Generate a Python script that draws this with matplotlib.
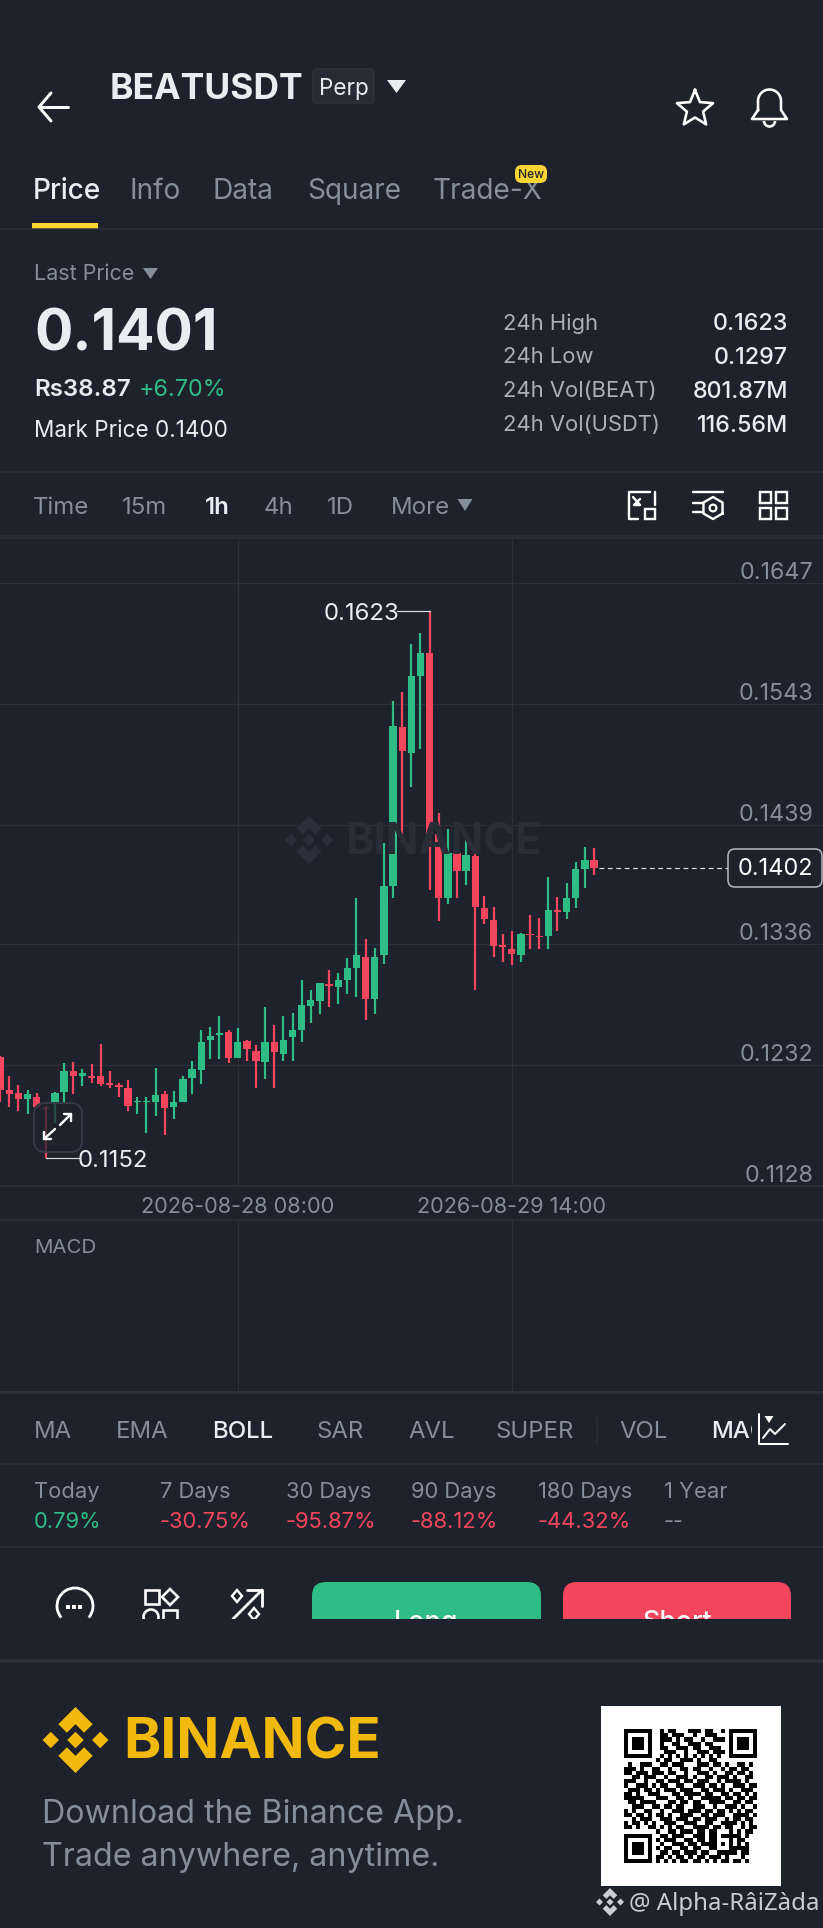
import matplotlib
matplotlib.use("Agg")
import matplotlib.pyplot as plt
from matplotlib.patches import Rectangle, FancyBboxPatch, Polygon, Circle, Arc
import numpy as np

# colours
BG = '#1e222d'
LINE = '#2a2e39'
GRID = '#2c313c'
GRAY = '#848e9c'
LIGHT = '#eaecef'
GREEN = '#2ebd85'
RED = '#f6465d'
YELLOW = '#fcd535'
GOLD = '#f0b90b'

# hourly candles
opens = [.1239, .1211, .1208, .1203, .1205, .1195, .1200, .1209, .1227, .1223, .1223,
         .1223, .1217, .1215, .1212, .1200, .1200, .1200, .1207, .1196, .1200, .1221,
         .1228, .1254, .1258, .1261, .1238, .1253, .1244, .1235, .1252, .1242, .1256,
         .1262, .1283, .1287, .1302, .1299, .1305, .1316, .1325, .1289, .1327, .1386,
         .1523, .1501, .1567, .1587, .1431, .1376, .1415, .1399, .1412, .1367, .1357,
         .1335, .1332, .1327, .1345, .1343, .1343, .1366, .1364, .1376, .1401, .1409]
highs = [.1240, .1223, .1215, .1211, .1208, .1197, .1209, .1234, .1235, .1229, .1233,
         .1250, .1227, .1217, .1219, .1205, .1205, .1230, .1210, .1210, .1223, .1236,
         .1262, .1265, .1274, .1262, .1264, .1254, .1249, .1282, .1267, .1274, .1277,
         .1305, .1297, .1303, .1314, .1311, .1324, .1376, .1341, .1333, .1423, .1546,
         .1553, .1595, .1604, .1623, .1449, .1435, .1422, .1426, .1414, .1378, .1368,
         .1345, .1348, .1346, .1361, .1359, .1394, .1377, .1389, .1407, .1420, .1419]
lows = [.1200, .1196, .1193, .1190, .1195, .1152, .1182, .1200, .1207, .1214, .1217,
        .1214, .1212, .1205, .1193, .1190, .1174, .1188, .1172, .1186, .1200, .1207,
        .1216, .1237, .1237, .1234, .1238, .1236, .1212, .1220, .1212, .1236, .1236,
        .1252, .1268, .1276, .1282, .1285, .1293, .1291, .1271, .1276, .1319, .1376,
        .1424, .1472, .1504, .1383, .1356, .1371, .1376, .1387, .1297, .1354, .1325,
        .1321, .1318, .1321, .1332, .1332, .1332, .1348, .1358, .1367, .1385, .1396]
closes = [.1211, .1207, .1203, .1207, .1196, .1194, .1208, .1227, .1223, .1225, .1221,
          .1216, .1215, .1213, .1197, .1201, .1201, .1206, .1195, .1200, .1220, .1229,
          .1252, .1257, .1260, .1238, .1252, .1246, .1236, .1252, .1243, .1254, .1262,
          .1284, .1288, .1303, .1300, .1305, .1316, .1327, .1289, .1325, .1386, .1524,
          .1503, .1567, .1587, .1431, .1376, .1415, .1399, .1413, .1368, .1358, .1335,
          .1334, .1328, .1345, .1344, .1342, .1366, .1364, .1376, .1401, .1409, .1402]

price_ticks = [.1647, .1543, .1439, .1336, .1232, .1128]
price_labels = ['0.1647', '0.1543', '0.1439', '0.1336', '0.1232', '0.1128']
time_ticks = [26, 56]
time_labels = ['2026-08-28 08:00', '2026-08-29 14:00']
last_price = .1402
day_high = .1623
day_low = .1152

tabs = ['Price', 'Info', 'Data', 'Square', 'Trade-X']
tab_x = [33, 130, 213, 307, 433]
intervals = ['Time', '15m', '1h', '4h', '1D', 'More']
interval_x = [33, 122, 205, 264, 327, 391]
stat_names = ['24h High', '24h Low', '24h Vol(BEAT)', '24h Vol(USDT)']
stat_values = ['0.1623', '0.1297', '801.87M', '116.56M']
indicators = ['MA', 'EMA', 'BOLL', 'SAR', 'AVL', 'SUPER', 'VOL', 'MAC']
indicator_x = [34, 116, 212, 317, 408, 496, 619, 711]
periods = ['Today', '7 Days', '30 Days', '90 Days', '180 Days', '1 Year']
period_changes = ['0.79%', '-30.75%', '-95.87%', '-88.12%', '-44.32%', '--']
period_x = [34, 160, 286, 411, 538, 664]

qr_top = ['0101100011101100110', '0110111001001110010', '0111010110010011100',
          '0100110011101100010', '0110011101100111010', '0011100100111011100',
          '0101010101010101010']
qr_mid = ['000000001011001110100110000000000',
          '010011100110111000111011010011010',
          '111010011001001101100100101101100',
          '110111011101100100111010011011010',
          '001101110010011101001101110100110',
          '111001001101110110111001011110100',
          '100111010110011001110110100111011',
          '011101101011101110011011101001110',
          '110100111000110111101100110110101',
          '111110001110011010011111011011011',
          '011011110001101101100111100110110',
          '001110011011011001110010011101001',
          '101001100100111011101101101010110',
          '110110101101001110011011100111101',
          '001011100111011101101110010110110',
          '101101010011100111001100111101010',
          '110100110101011001111011011001011',
          '000000001001101110110110001010110']
qr_bottom = ['01101110011101101111101', '10111001101101100010110', '01001110110111101010101',
             '10110011011001100011111', '01101101110110011111011', '11010110101101110100010',
             '10101011011010101101101']
FINDER = ['1111111', '1000001', '1011101', '1011101', '1011101', '1000001', '1111111']

plt.rcParams['font.family'] = ['Inter', 'DejaVu Sans']
fig = plt.figure(figsize=(8.23, 19.28), dpi=100, facecolor=BG)
W, H = 823, 1928
PT = 0.72  # one pixel in points


def chart_axes(top, bottom):
    ax = fig.add_axes([0, 1 - bottom / H, 1, (bottom - top) / H], facecolor='none')
    # candle spacing is 9.136 px and the first candle sits at the left edge
    ax.set_xlim(-0.02, 90.06)
    for side in ['left', 'right']:
        ax.spines[side].set_visible(False)
    for side in ['top', 'bottom']:
        ax.spines[side].set_color(GRID)
        ax.spines[side].set_linewidth(1.5 * PT)
    ax.grid(True, color=GRID, linewidth=1.2 * PT)
    ax.set_axisbelow(True)
    return ax


# price panel
ax = chart_axes(538, 1186)
ax.set_ylim(.1128, .1686)
ax.set_yticks(price_ticks)
ax.set_xticks(time_ticks)
ax.set_xticklabels(time_labels, fontsize=21.7 * PT, color=GRAY)
ax.tick_params(axis='x', length=0, pad=8)
ax.tick_params(axis='y', length=0, labelleft=False)

x = np.arange(len(opens))
o, h, l, c = [np.array(v) for v in (opens, highs, lows, closes)]
colors = np.where(c >= o, GREEN, RED)
ax.vlines(x, l, h, colors=colors, linewidth=2.2 * PT, zorder=3)
# very thin bodies still have to show, so keep a minimum height
body = np.maximum(np.abs(c - o), .00012)
ax.bar(x, body, bottom=np.minimum(o, c), width=0.8, color=colors, linewidth=0, zorder=3)

for t, lab in zip(price_ticks, price_labels):
    ax.annotate(lab, xy=(1, t), xycoords=('axes fraction', 'data'), xytext=(-10 * PT, 10 * PT),
                textcoords='offset points', ha='right', va='center', fontsize=23.3 * PT, color=GRAY)

# high / low / last markers
hi_i = int(np.argmax(h))
lo_i = int(np.argmin(l))
ax.plot([hi_i - 3.6, hi_i], [day_high, day_high], color='#d8dbe0', linewidth=1.2 * PT, zorder=4)
ax.plot([lo_i, lo_i + 3.6], [day_low, day_low], color='#d8dbe0', linewidth=1.2 * PT, zorder=4)
ax.plot([65.5, 79.7], [last_price, last_price], color='#d8dbe0', linewidth=1.2 * PT,
        dashes=(4, 3), zorder=4)

# MACD panel
ax2 = chart_axes(1220, 1392)
ax2.set_yticks([])
ax2.set_xticks(time_ticks)
ax2.tick_params(axis='x', length=0, labelbottom=False)
ax2.spines['bottom'].set_linewidth(3 * PT)

# everything else lives on a pixel overlay
ui = fig.add_axes([0, 0, 1, 1], facecolor='none', zorder=5)
ui.set_xlim(0, W)
ui.set_ylim(H, 0)
ui.axis('off')


def txt(px, py, s, size, color=LIGHT, weight='normal', ha='left', **kw):
    # Inter's line box sits high, push it down a little
    return ui.text(px, py + 0.11 * size, s, fontsize=size * PT, color=color, weight=weight, ha=ha,
                   va='center', **kw)


def seg(xs, ys, color='white', lw=2.6, **kw):
    return ui.plot(xs, ys, color=color, linewidth=lw * PT, solid_capstyle='round', **kw)[0]


def hline(py, lw=1.5, color=LINE):
    ui.plot([0, W], [py, py], color=color, linewidth=lw * PT)


def tri(cx, top, bottom, half, color):
    ui.add_patch(Polygon([(cx - half, top), (cx + half, top), (cx, bottom)], color=color, lw=0))


def rbox(x0, y0, x1, y1, rad, face='none', edge='none', lw=1.0, **kw):
    p = FancyBboxPatch((x0 + rad, y0 + rad), x1 - x0 - 2 * rad, y1 - y0 - 2 * rad,
                       boxstyle='round,pad=%f' % rad, facecolor=face, edgecolor=edge,
                       linewidth=lw * PT, **kw)
    ui.add_patch(p)
    return p


def binance_mark(cx, cy, r, color):
    shapes = []
    for dx in (-0.75, 0, 0.75):
        shapes.append([(dx, 0.25), (dx + 0.25, 0), (dx, -0.25), (dx - 0.25, 0)])
    top = [(0, 1), (0.52, 0.48), (0.26, 0.22), (0, 0.48), (-0.26, 0.22), (-0.52, 0.48)]
    shapes.append(top)
    shapes.append([(a, -b) for a, b in top])
    for s in shapes:
        ui.add_patch(Polygon([(cx + a * r, cy - b * r) for a, b in s], color=color, lw=0))


# header
seg([40, 68], [107, 107], lw=3)
seg([51, 39, 51], [93, 107, 121], lw=3)
txt(110, 86, 'BEATUSDT', 35.5, color=LIGHT, weight='bold')
rbox(313, 69, 374, 103, 4, face='#262b35', edge='#30353f', lw=1.2)
txt(343.5, 87, 'Perp', 22.5, color=LIGHT, ha='center')
tri(396.5, 80, 93, 9.5, LIGHT)
angles = np.deg2rad(np.arange(0, 361, 36) + 90)
radii = np.where(np.arange(11) % 2 == 0, 19, 8.5)
ui.plot(695 + radii * np.cos(angles), 109 - radii * np.sin(angles), color='white',
        linewidth=2.6 * PT, solid_joinstyle='round')
# bell
bell_a = np.deg2rad(np.linspace(180, 0, 30))
bx = np.r_[758, 758 + 0, 769.5 + 11.5 * np.cos(bell_a), 781, 787, 752, 758]
by = np.r_[110, 103, 101 - 11.5 * np.sin(bell_a), 110, 119, 119, 110]
ui.plot(bx, by, color='white', linewidth=2.6 * PT, solid_joinstyle='round')
ui.add_patch(Arc((769.5, 121), 11, 11, theta1=0, theta2=180, color='white', lw=2.6 * PT))

# tabs
for i, (name, tx) in enumerate(zip(tabs, tab_x)):
    txt(tx, 188, name, 28, color=LIGHT if i == 0 else GRAY, weight='medium' if i == 0 else 'normal')
ui.add_patch(Rectangle((32, 223), 66, 6, color=YELLOW, lw=0))
rbox(515, 165, 547, 183, 7, face=YELLOW, zorder=4)
txt(531, 174, 'New', 12, color='#1e222d', ha='center', weight='medium', zorder=5)
hline(229)

# price block
txt(34, 272, 'Last Price', 21.5, color=GRAY)
tri(150.5, 268, 279, 7.5, GRAY)
txt(34, 329, '0.1401', 57, weight='bold')
txt(34, 387, 'Rs38.87', 24, weight='semibold')
txt(139, 387, '+6.70%', 23.3, color=GREEN)
txt(34, 429, 'Mark Price 0.1400', 22.5)
for name, val, sy in zip(stat_names, stat_values, [321, 355, 389, 423]):
    txt(503, sy, name, 22, color='#a9b0ba')
    txt(788, sy, val, 23.3, weight='medium', ha='right')
hline(472)

# interval row
for name, tx in zip(intervals, interval_x):
    on = name == '1h'
    txt(tx, 505, name, 24, color=LIGHT if on else GRAY, weight='semibold' if on else 'normal')
tri(465, 499, 511, 7.5, GRAY)
hline(536)
# row icons
seg([650, 629, 629, 638], [492, 492, 519, 519], lw=2.4)
seg([655, 655], [492, 505], lw=2.4)
seg([633, 640], [497, 505], lw=2.4)
seg([640, 634, 640], [499, 505, 505], lw=2.4)
ui.add_patch(Rectangle((645, 509), 10, 10, fc='none', ec='white', lw=2.4 * PT))
seg([693, 723], [492, 492], lw=2.4)
seg([693, 703], [503, 503], lw=2.4)
seg([693, 703], [512, 512], lw=2.4)
hex_a = np.deg2rad(np.arange(30, 391, 60))
ui.plot(713 + 11 * np.cos(hex_a), 508 + 11 * np.sin(hex_a), color='white', lw=2.4 * PT)
ui.add_patch(Circle((713, 508), 3.4, fc='none', ec='white', lw=2.2 * PT))
for qx in (760, 776):
    for qy in (492, 508):
        ui.add_patch(Rectangle((qx, qy), 11, 11, fc='none', ec='white', lw=2.4 * PT))

# chart watermark
binance_mark(309, 840, 24, '#2a2f3b')
txt(345, 838, 'BINANCE', 43, color='#282d38', weight='bold')

# chart labels
txt(324, 611, '0.1623', 24, color=LIGHT)
txt(78, 1158, '0.1152', 24, color=LIGHT)
rbox(728, 849, 822, 887, 7, face=BG, edge='#b7bdc6', lw=1.5)
txt(775, 866, '0.1402', 23.5, color='white', ha='center')

# expand button
rbox(34, 1103, 82, 1152, 11, face=(0.118, 0.133, 0.176, 0.72), edge='#343a46', lw=2)
seg([60, 71], [1125, 1114], lw=2.4)
seg([64, 71, 71], [1114, 1114, 1121], lw=2.4)
seg([44, 55], [1139, 1129], lw=2.4)
seg([44, 44, 51], [1132, 1139, 1139], lw=2.4)

txt(34, 1246, 'MACD', 20.5, color=GRAY)

# indicator row
for name, tx in zip(indicators, indicator_x):
    on = name in ('BOLL', 'MAC')
    txt(tx, 1429, name, 24, color=LIGHT if on else GRAY, weight='medium' if on else 'normal')
ui.plot([597, 597], [1418, 1442], color=LINE, linewidth=1.5 * PT)
# the chart-type icon covers the end of the scrolled row
ui.add_patch(Rectangle((752, 1412), 44, 36, color=BG, lw=0, zorder=4))
seg([759, 759, 788], [1414, 1444, 1444], lw=2, zorder=5)
seg([763, 770, 775, 785], [1438, 1429, 1434, 1424], lw=2, zorder=5)
ui.add_patch(Polygon([(764.5, 1416), (773.5, 1416), (769, 1423)], color='white', lw=0, zorder=5))
hline(1464)

for name, change, tx in zip(periods, period_changes, period_x):
    col = GRAY if change == '--' else (RED if change.startswith('-') else GREEN)
    txt(tx, 1490, name, 22, color=GRAY)
    txt(tx, 1520, change, 22, color=col)
hline(1547)

# bottom bar, cut off in the picture at y=1619
bar_clip = Rectangle((0, 1570), W, 49, transform=ui.transData)
rows = [rbox(312, 1582, 541, 1650, 14, face=GREEN), rbox(563, 1582, 791, 1650, 14, face=RED)]
rows.append(txt(426, 1620, 'Long', 27, color='white', ha='center', weight='medium', clip_on=True))
rows.append(txt(677, 1620, 'Short', 27, color='white', ha='center', weight='medium', clip_on=True))
# chat
rows.append(ui.add_patch(Arc((75, 1606), 36, 36, theta1=-220, theta2=40, color='white', lw=2.8 * PT)))
for dx in (-6, 0, 6):
    rows.append(ui.add_patch(Rectangle((74 + dx - 1.5, 1605), 3.5, 3.5, color='white', lw=0)))
# apps
rows.append(ui.add_patch(Rectangle((145, 1590), 14, 14, fc='none', ec='white', lw=2.6 * PT)))
rows.append(ui.add_patch(Polygon([(170, 1589), (178, 1597), (170, 1605), (162, 1597)], fc='none', ec='white', lw=2.6 * PT)))
rows.append(ui.add_patch(Circle((151, 1617), 7.5, fc='none', ec='white', lw=2.6 * PT)))
rows.append(ui.add_patch(Rectangle((163, 1610), 14, 14, fc='none', ec='white', lw=2.6 * PT)))
# long short icon
rows.append(seg([233, 262], [1619, 1590], lw=2.8))
rows.append(seg([247, 262, 262], [1590, 1590, 1606], lw=2.8))
rows.append(ui.add_patch(Polygon([(237, 1590), (242, 1596), (237, 1602), (232, 1596)], fc='none', ec='white', lw=2.4 * PT)))
rows.append(ui.add_patch(Polygon([(254, 1608), (259, 1614), (254, 1620), (249, 1614)], fc='none', ec='white', lw=2.4 * PT)))
for art in rows:
    art.set_clip_path(bar_clip)
hline(1661, lw=3.5, color='#2c313c')

# footer
binance_mark(75.5, 1740, 33, GOLD)
txt(123, 1737, 'BINANCE', 56.5, color=GOLD, weight='bold')
txt(42, 1811, 'Download the Binance App.', 32.2, color=GRAY)
txt(42, 1854, 'Trade anywhere, anytime.', 32.2, color=GRAY)

ui.add_patch(Rectangle((601, 1706), 180, 180, color='white', lw=0))
qr_rows = [FINDER[i] + '0' + qr_top[i][:17] + '0' + FINDER[i] for i in range(7)]
qr_rows += qr_mid
qr_rows += [FINDER[i] + '0' + qr_bottom[i][:25] for i in range(7)]
qr = np.array([[int(ch) for ch in r.ljust(33, '0')[:33]] for r in qr_rows])
ui.imshow(1 - qr, cmap='gray', vmin=0, vmax=1, extent=(624, 757, 1863, 1729),
          interpolation='nearest', aspect='auto', zorder=3)
ui.set_xlim(0, W)
ui.set_ylim(H, 0)

binance_mark(610, 1902, 14, '#c9ccd3')
txt(629, 1901, '@ Alpha-RâiZàda', 24, color='#c9ccd3', family=['Noto Sans', 'DejaVu Sans'])

fig.savefig('out.png', dpi=100, facecolor=BG)
